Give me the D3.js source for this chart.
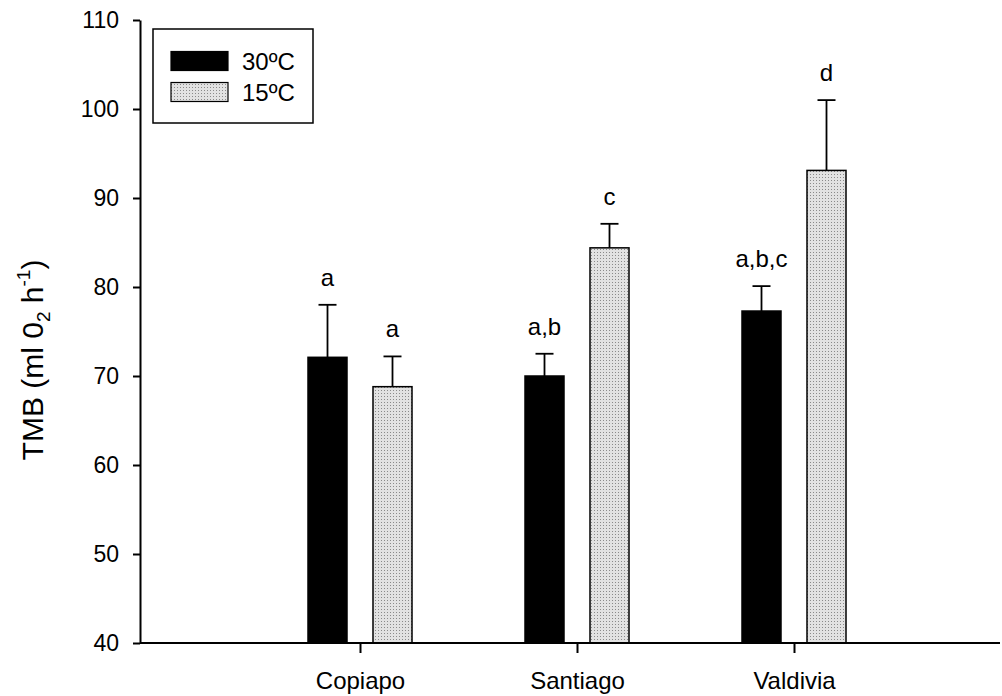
<!DOCTYPE html>
<html>
<head>
<meta charset="utf-8">
<script src="https://cdn.jsdelivr.net/npm/d3@7"></script>
<style>
  body { margin: 0; background: #fff; }
  svg { display: block; font-family: Arial, "Liberation Sans", sans-serif; }
</style>
</head>
<body>
<div id="chart"></div>
<script>
const categories = ["Copiapo", "Santiago", "Valdivia"];
const seriesNames = ["30ºC", "15ºC"];
const mean30 = [72.1, 70.0, 77.3];
const se30 = [5.9, 2.5, 2.8];
const mean15 = [68.8, 84.4, 93.1];
const se15 = [3.4, 2.7, 7.9];
const letters30 = ["a", "a,b", "a,b,c"];
const letters15 = ["a", "c", "d"];
const yTicks = [40, 50, 60, 70, 80, 90, 100, 110];

const width = 1002, height = 696;
const axisX = 140, axisY = 643, topY = 20, rightX = 1000;
const barW = 39;

const svg = d3.select("#chart").append("svg")
    .attr("width", width)
    .attr("height", height);

// dotted grey fill like the scanned figure
const pat = svg.append("defs").append("pattern")
    .attr("id", "dots")
    .attr("width", 3)
    .attr("height", 3)
    .attr("patternUnits", "userSpaceOnUse");
pat.append("rect").attr("width", 3).attr("height", 3).attr("fill", "#e2e2e2");
pat.append("rect").attr("width", 1).attr("height", 1).attr("fill", "#8a8a8a");

const y = d3.scaleLinear().domain([40, 110]).range([axisY, topY]);
const x = d3.scalePoint().domain(categories).range([360, 794]);
const xs = d3.scalePoint().domain(seriesNames).range([-32.5, 32.5]);
const fill = d3.scaleOrdinal(seriesNames, ["#000", "url(#dots)"]);

const data = [];
categories.forEach((c, i) => {
    data.push({cat: c, s: seriesNames[0], v: mean30[i], e: se30[i], l: letters30[i]});
    data.push({cat: c, s: seriesNames[1], v: mean15[i], e: se15[i], l: letters15[i]});
});

// bars
svg.append("g").selectAll("rect")
    .data(data)
    .join("rect")
    .attr("x", d => x(d.cat) + xs(d.s) - barW / 2)
    .attr("y", d => y(d.v))
    .attr("width", barW)
    .attr("height", d => y(40) - y(d.v))
    .attr("fill", d => fill(d.s))
    .attr("stroke", "#000")
    .attr("stroke-width", 1.5);

// error bars (upper only)
const eb = svg.append("g").attr("stroke", "#000").attr("stroke-width", 1.8);
eb.selectAll("line.v")
    .data(data)
    .join("line")
    .attr("class", "v")
    .attr("x1", d => x(d.cat) + xs(d.s))
    .attr("x2", d => x(d.cat) + xs(d.s))
    .attr("y1", d => y(d.v))
    .attr("y2", d => y(d.v + d.e));
eb.selectAll("line.c")
    .data(data)
    .join("line")
    .attr("class", "c")
    .attr("x1", d => x(d.cat) + xs(d.s) - 9)
    .attr("x2", d => x(d.cat) + xs(d.s) + 9)
    .attr("y1", d => y(d.v + d.e))
    .attr("y2", d => y(d.v + d.e));

// significance letters
svg.append("g").selectAll("text")
    .data(data)
    .join("text")
    .attr("x", d => x(d.cat) + xs(d.s))
    .attr("y", d => y(d.v + d.e) - 19)
    .attr("text-anchor", "middle")
    .attr("font-size", 24)
    .text(d => d.l);

// y axis
const yAxis = svg.append("g")
    .attr("transform", `translate(${axisX},0)`)
    .call(d3.axisLeft(y).tickValues(yTicks).tickSize(7).tickPadding(14).tickSizeOuter(0));
yAxis.selectAll("text").attr("font-size", 23).attr("fill", "#000");
yAxis.selectAll("line, path").attr("stroke", "#000").attr("stroke-width", 2);

// x axis
svg.append("line")
    .attr("x1", axisX).attr("x2", rightX)
    .attr("y1", axisY).attr("y2", axisY)
    .attr("stroke", "#000").attr("stroke-width", 2);
const xAxis = svg.append("g")
    .attr("transform", `translate(0,${axisY})`)
    .call(d3.axisBottom(x).tickSize(10).tickPadding(19));
xAxis.select(".domain").remove();
xAxis.selectAll("text").attr("font-size", 24).attr("fill", "#000");
xAxis.selectAll("line").attr("stroke", "#000").attr("stroke-width", 2);

// y title
const yt = svg.append("text")
    .attr("transform", "translate(43,360) rotate(-90)")
    .attr("text-anchor", "middle")
    .attr("font-size", 30);
yt.append("tspan").text("TMB (ml 0");
yt.append("tspan").attr("font-size", 19).attr("dy", 7).text("2");
yt.append("tspan").attr("dy", -7).text(" h");
yt.append("tspan").attr("font-size", 19).attr("dy", -13).text("-1");
yt.append("tspan").attr("dy", 13).text(")");

// legend
const lg = svg.append("g");
lg.append("rect")
    .attr("x", 153).attr("y", 29)
    .attr("width", 160).attr("height", 94)
    .attr("fill", "#fff").attr("stroke", "#000").attr("stroke-width", 1.5);
const ly = d3.scalePoint().domain(seriesNames).range([61, 92]);
lg.selectAll("rect.sw")
    .data(seriesNames)
    .join("rect")
    .attr("class", "sw")
    .attr("x", 171)
    .attr("y", d => ly(d) - 9.5)
    .attr("width", 57)
    .attr("height", 19)
    .attr("fill", d => fill(d))
    .attr("stroke", "#000")
    .attr("stroke-width", 1.2);
lg.selectAll("text")
    .data(seriesNames)
    .join("text")
    .attr("x", 242)
    .attr("y", d => ly(d) + 8.5)
    .attr("font-size", 24)
    .text(d => d);
</script>
</body>
</html>
